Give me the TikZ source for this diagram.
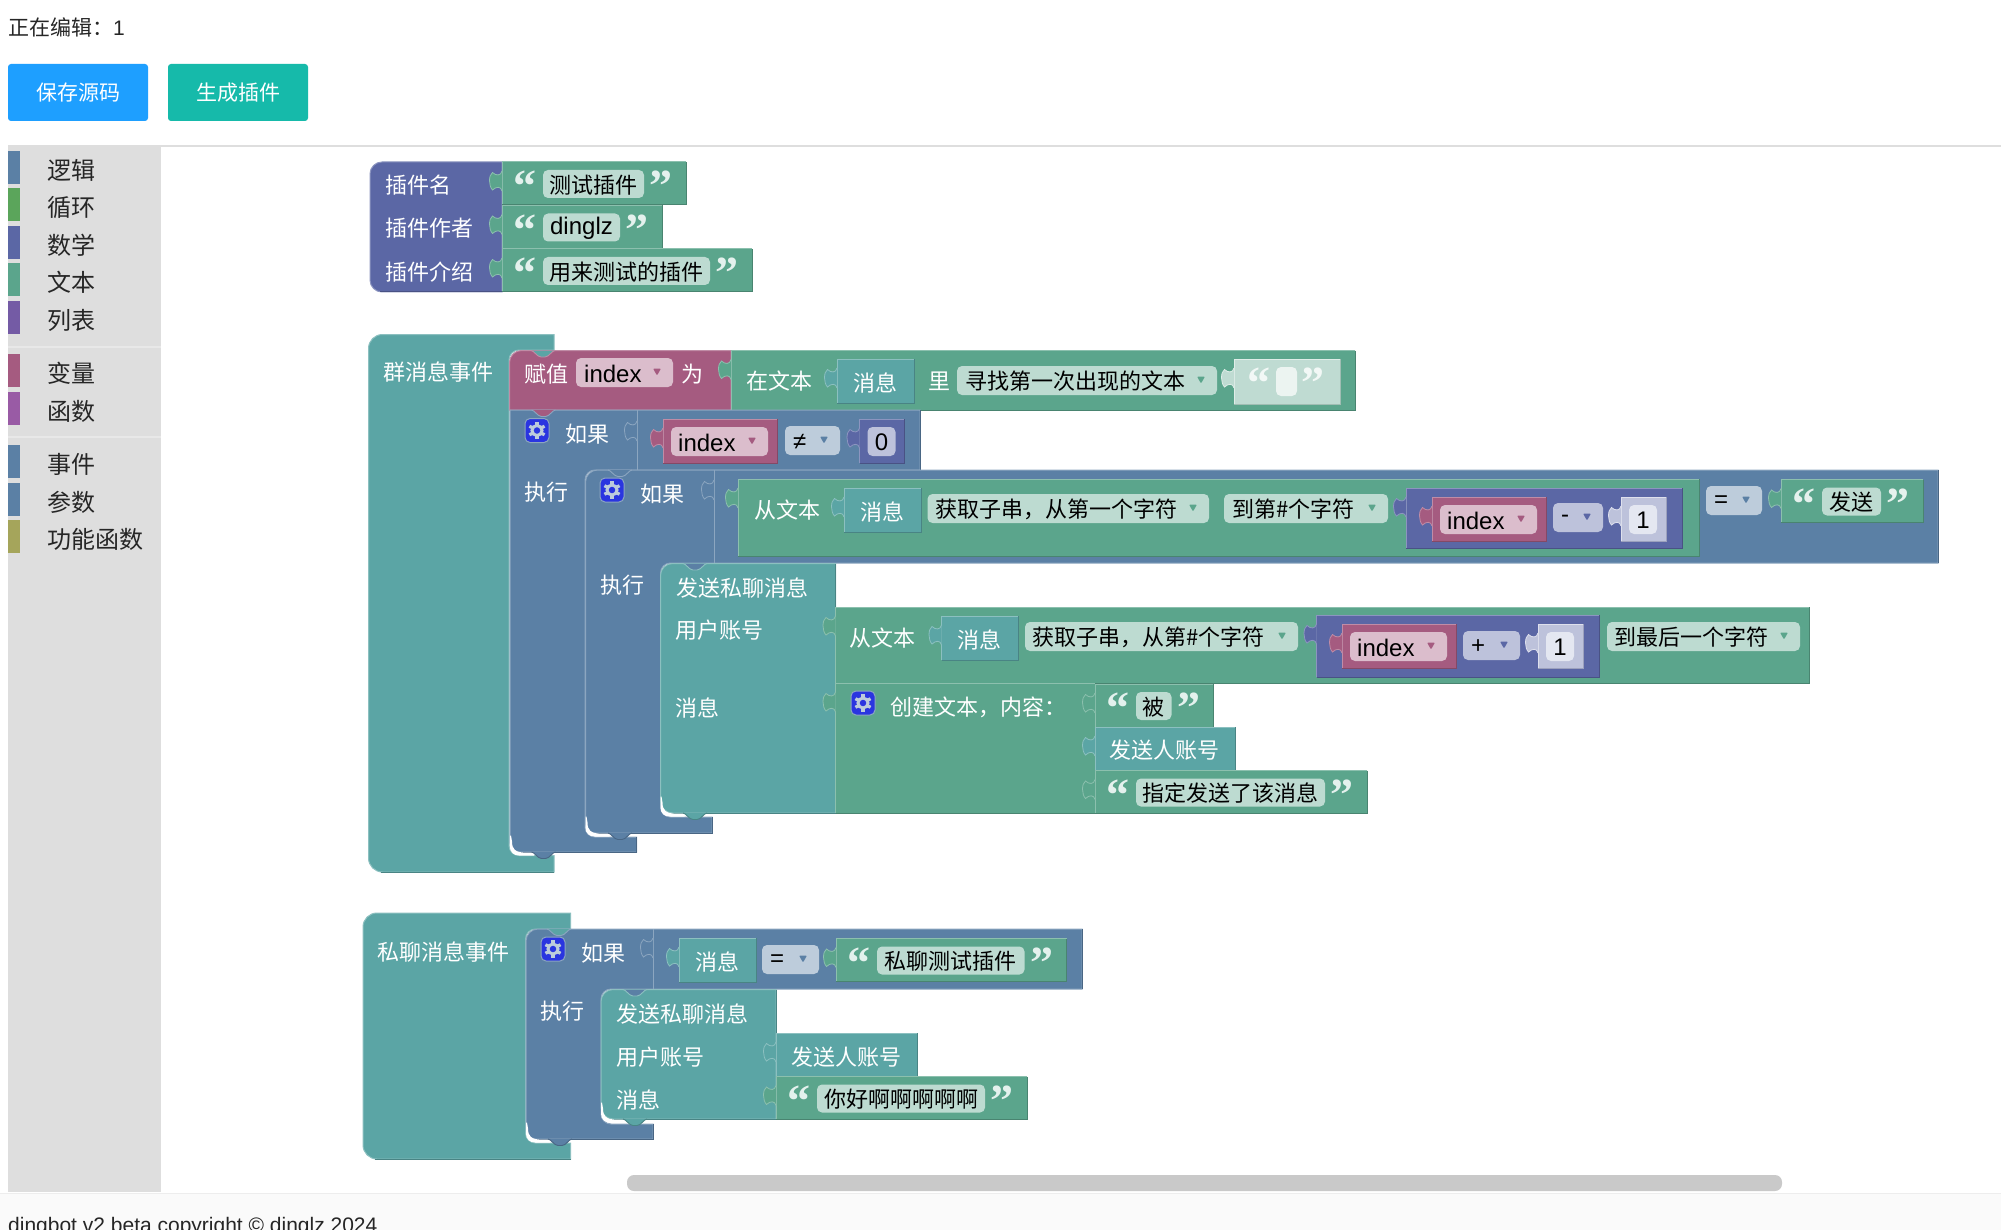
\documentclass[tikz,border=0pt]{standalone}
\usepackage{fontspec}
\setmainfont{Liberation Sans}
\newfontfamily\cjk{Noto Sans CJK SC}
\newfontfamily\qfont{Liberation Serif}[Scale=1.0]

\definecolor{txt}{HTML}{5BA58C}
\definecolor{txthi}{HTML}{8CC0AE}
\definecolor{txtlo}{HTML}{498470}
\definecolor{txtfld}{HTML}{BDDBD1}
\definecolor{evt}{HTML}{5BA5A5}
\definecolor{evthi}{HTML}{8CC0C0}
\definecolor{evtlo}{HTML}{498484}
\definecolor{ctl}{HTML}{5B80A5}
\definecolor{ctlhi}{HTML}{8CA6C0}
\definecolor{ctllo}{HTML}{496684}
\definecolor{ctlfld}{HTML}{BDCCDB}
\definecolor{mth}{HTML}{5B67A5}
\definecolor{mthhi}{HTML}{8C95C0}
\definecolor{mthlo}{HTML}{495284}
\definecolor{mthfld}{HTML}{BDC2DB}
\definecolor{vrb}{HTML}{A55B80}
\definecolor{vrbhi}{HTML}{C08CA6}
\definecolor{vrblo}{HTML}{844966}
\definecolor{vrbfld}{HTML}{DBBDCC}
\definecolor{pale}{HTML}{BDC2DB}
\definecolor{palehi}{HTML}{DEE0ED}
\definecolor{palelo}{HTML}{9CA1BD}
\definecolor{paletxt}{HTML}{BFDBD2}
\definecolor{paletxthi}{HTML}{DFEDE8}
\definecolor{paletxtlo}{HTML}{A0BDB3}
\definecolor{loopcol}{HTML}{5BA55B}
\definecolor{listcol}{HTML}{745BA5}
\definecolor{funccol}{HTML}{995BA5}
\definecolor{utilcol}{HTML}{A5A55B}
\definecolor{gearcol}{HTML}{2A35E0}
\definecolor{savecol}{HTML}{1E9FFF}
\definecolor{buildcol}{HTML}{16BAAA}

\newcommand{\zhfont}{\fontsize{22}{24}\cjk}
\newcommand{\ltn}[1]{{\fontsize{24}{26}\rmfamily #1}}

\tikzset{
  lbl/.style={anchor=west,inner sep=0pt,yshift=-1pt,text=white,font=\zhfont},
  fldtext/.style={anchor=west,inner sep=0pt,yshift=-1pt,text=black,font=\zhfont},
  sidetext/.style={anchor=west,inner sep=0pt,yshift=-1pt,text=black!85,font=\fontsize{24}{26}\cjk},
  btn/.style={inner sep=0pt,text=white,minimum width=140pt,minimum height=57pt,rounded corners=3pt,font=\fontsize{21}{23}\cjk},
  quotemark/.style={inner sep=0pt,font=\fontsize{46}{46}\qfont\bfseries},
  gearbox/.style={inner sep=0pt,minimum width=24pt,minimum height=24pt,rounded corners=5pt,fill=gearcol,draw=ctlhi,line width=1pt},
}

% blocks
\newcommand{\blk}[5]{
  \fill[#1] (#2,#3) rectangle (#4,#5);
  \draw[#1hi,line width=1pt] (#2,#5) -- (#2,#3) -- (#4,#3);
  \draw[#1lo,line width=1pt] (#4,#3) -- (#4,#5) -- (#2,#5);
}
\newcommand{\tabin}[3]{
  \begin{scope}[shift={(#2,#3)}]
    \filldraw[fill=#1,draw=#1hi,line width=.8pt] (0,0) .. controls (-1,5) and (-6,5) .. (-9.5,1.5) .. controls (-13.5,4) and (-13.5,15) .. (-9.5,19) .. controls (-6,15.5) and (-1,15) .. (0,20);
  \end{scope}
}
\newcommand{\vblk}[5]{
  \blk{#1}{#2}{#3}{#4}{#5}
  \tabin{#1}{#2}{#3+9}
}
\newcommand{\notch}[4]{
  \begin{scope}[shift={(#3,#4)}]
    \fill[#1] (0,0) .. controls (3,0) and (6,6.5) .. (10,6.5) -- (14,6.5) .. controls (18,6.5) and (21,0) .. (24,0) -- cycle;
    \draw[#2,line width=.9pt] (0,0) .. controls (3,0) and (6,6.5) .. (10,6.5) -- (14,6.5) .. controls (18,6.5) and (21,0) .. (24,0);
  \end{scope}
}
% rounded on the left side only
\newcommand{\stmtblk}[5]{
  \filldraw[fill=#1,draw=#1hi,line width=1pt] (#4,#3) [rounded corners=12pt] -- (#2,#3) -- (#2,#5) [sharp corners] -- (#4,#5) -- cycle;
  \draw[#1lo,line width=1pt] (#2+10,#5) -- (#4,#5) -- (#4,#3);
}
\newcommand{\hatblk}[7]{
  \filldraw[fill=evt,draw=evthi,line width=1pt] (#3,#2) [rounded corners=14pt] -- (#1,#2) -- (#1,#7) [sharp corners] -- (#3,#7) -- (#3,#6) [rounded corners=10pt] -- (#5,#6) -- (#5,#4) [sharp corners] -- (#3,#4) -- cycle;
  \draw[evtlo,line width=1pt] (#1+12,#7) -- (#3,#7);
}
\newcommand{\ifblk}[9]{
  \filldraw[fill=ctl,draw=ctlhi,line width=1pt] (#4,#3) [rounded corners=#1pt] -- (#2,#3) [rounded corners=10pt] -- (#2,#9) [sharp corners] -- (#8,#9) -- (#8,#7) [rounded corners=10pt] -- (#6,#7) -- (#6,#5) [sharp corners] -- (#4,#5) -- cycle;
  \draw[ctllo,line width=1pt] (#4,#3) -- (#4,#5);
  \draw[ctllo,line width=1pt] (#8,#7) -- (#8,#9) -- (#2+10,#9);
}
\newcommand{\ccorner}[2]{
  \fill[white] (#1,#2-20) -- (#1,#2-9) .. controls (#1,#2-3) and (#1+4,#2) .. (#1+9,#2) -- (#1+24,#2) -- (#1+24,#2-3) -- (#1+13,#2-3) .. controls (#1+6,#2-3) and (#1+2,#2-6) .. (#1+2,#2-14) -- (#1+1,#2-20) -- cycle;
}
\newcommand{\ddfld}[7]{
  \fill[#2fld,rounded corners=5pt] (#3,#4) rectangle (#5,#4+29);
  \fill[#2,rounded corners=1pt] (#5-20,#4+10.5) -- (#5-12,#4+10.5) -- (#5-16,#4+17.5) -- cycle;
  \node (#1) [fldtext] at (#6,#4+14.5) {#7};
}
\newcommand{\strblk}[5]{
  \vblk{txt}{#2}{#3}{#4}{#3+43}
  \fill[txtfld,rounded corners=5pt] (#2+41,#3+8) rectangle (#4-42,#3+36);
  \node (#1) [fldtext,anchor=center] at ({(#2+#4-1)/2},#3+22) {#5};
  \node (#1l) [quotemark,text=white!60!txtfld] at (#2+23,#3+24.5) {“};
  \node (#1r) [quotemark,text=white!60!txtfld] at (#4-25,#3+24.5) {”};
}
\newcommand{\indexblk}[3]{
  \vblk{vrb}{#2}{#3}{#2+114}{#3+44}
  \ddfld{#1}{vrb}{#2+8}{#3+8}{#2+105}{#2+15}{\ltn{index}}
}
\newcommand{\msgblk}[3]{
  \vblk{evt}{#2}{#3}{#2+77}{#3+44}
  \node (#1) [lbl,anchor=center] at (#2+38,#3+23) {消息};
}
\newcommand{\numblk}[6]{
  \vblk{#2}{#4}{#5}{#4+45}{#5+44}
  \fill[#3,rounded corners=5pt] (#4+8,#5+8) rectangle (#4+36,#5+37);
  \node (#1) [fldtext,anchor=center] at (#4+22,#5+22.5) {\ltn{#6}};
}
\newcommand{\gearicon}[3]{
  \node (#1) [gearbox] at (#2,#3) {};
  \draw[ctlfld,line width=3pt] (#1.center) circle (5);
  \foreach \a in {30,90,...,330}
    \draw[ctlfld,line width=3.2pt] (#1.center) ++(\a:5.5) -- ++(\a:3.2);
}

\begin{document}
\begin{tikzpicture}[x=1pt,y=-1pt]
  \useasboundingbox (0,0) rectangle (2001,1230);
  \fill[white] (0,0) rectangle (2001,1230);

  % header
  \node (editing) [anchor=west,inner sep=0pt,text=black!85,font=\fontsize{21}{23}\selectfont] at (8,27) {{\cjk 正在编辑：}1};
  \node (save) [btn,fill=savecol] at (78,92.5) {保存源码};
  \node (build) [btn,fill=buildcol] at (238,92.5) {生成插件};
  \draw[black!13,line width=1.5pt] (161,146) -- (2001,146);

  % toolbox
  \fill[black!13] (8,145) rectangle (161,1192);
  \draw[black!9,line width=1.5pt] (8,347) -- (161,347);
  \draw[black!9,line width=1.5pt] (8,437) -- (161,437);
  \foreach \ty/\col/\name [count=\i] in {151/ctl/逻辑,188/loopcol/循环,226/mth/数学,263/txt/文本,301/listcol/列表,354/vrb/变量,392/funccol/函数,445/ctl/事件,483/ctl/参数,520/utilcol/功能函数} {
    \fill[\col] (8,\ty) rectangle (20,\ty+33);
    \node (side\i) [sidetext] at (47.5,\ty+18) {\name};
  }

  % plugin info
  \stmtblk{mth}{370}{162}{502}{292}
  \node (plgname) [lbl] at (385,184) {插件名};
  \node (plgauthor) [lbl] at (385,227) {插件作者};
  \node (plgintro) [lbl] at (385,271) {插件介绍};
  \strblk{strname}{502}{162}{686}{测试插件}
  \strblk{strauthor}{502}{205.5}{662}{\ltn{dinglz}}
  \strblk{strintro}{502}{249}{752}{用来测试的插件}

  % group message event
  \hatblk{368.5}{334.5}{554}{350}{509}{855.5}{872}
  \node (grpevt) [lbl] at (383,371) {群消息事件};
  \filldraw[fill=vrb,draw=vrbhi,line width=1pt] (731,350.5) [rounded corners=12pt] -- (509.5,350.5) [sharp corners] -- (509.5,410) -- (731,410) -- cycle;
  \notch{evt}{vrbhi}{531}{350.5}
  \node (assign) [lbl] at (524.5,373) {赋值};
  \ddfld{assignvar}{vrb}{576}{358}{673}{584}{\ltn{index}}
  \node (assignto) [lbl] at (681.5,373) {为};
  \vblk{txt}{731}{350.5}{1355}{410}
  \node (intext) [lbl] at (746.5,380) {在文本};
  \msgblk{msgfind}{837}{359}
  \node (intexttail) [lbl] at (928,380) {里};
  \ddfld{findmode}{txt}{957}{366}{1217}{965}{寻找第一次出现的文本}
  \vblk{paletxt}{1234}{359}{1340}{404}
  \fill[white!70!paletxt,rounded corners=5pt] (1276,367) rectangle (1297,396);
  \node (emptyl) [quotemark,text=white!80!paletxt] at (1259,383.5) {“};
  \node (emptyr) [quotemark,text=white!80!paletxt] at (1313,383.5) {”};

  % outer if
  \ifblk{0.1}{510}{410}{920}{470}{585}{837}{636.5}{852}
  \draw[ctlhi,line width=1pt] (637.5,410) -- (637.5,470);
  \notch{vrb}{ctlhi}{531.5}{410}
  \gearicon{gearone}{537}{430.5}
  \node (ifone) [lbl] at (565,433) {如果};
  \tabin{ctl}{637}{421}
  \indexblk{condvar}{663}{419}
  \ddfld{condop}{ctl}{785}{426}{840}{793}{\ltn{≠}}
  \numblk{condzero}{mth}{mthfld}{859.5}{419}{0}
  \node (doone) [lbl] at (524.5,491) {执行};
  \ccorner{510}{855.5}
  \notch{ctl}{ctllo}{531.5}{852}

  % inner if
  \ifblk{12}{585.5}{470}{1938}{563}{660.5}{817}{712}{833}
  \draw[ctlhi,line width=1pt] (714,470) -- (714,563);
  \notch{ctl}{ctlhi}{608}{470}
  \gearicon{geartwo}{612}{490}
  \node (iftwo) [lbl] at (640.5,493) {如果};
  \tabin{ctl}{714}{480}
  \vblk{txt}{738}{479}{1699}{556}
  \node (fromtext) [lbl] at (754,509) {从文本};
  \msgblk{msgsub}{844}{488}
  \ddfld{subfrom}{txt}{927.5}{494}{1209}{935}{获取子串，从第一个字符}
  \ddfld{subto}{txt}{1224}{494}{1388}{1232}{到第\#个字符}
  \vblk{mth}{1406}{488}{1682.5}{548}
  \indexblk{subvar}{1432}{497}
  \ddfld{subop}{mth}{1553}{503}{1603}{1561}{\ltn{-}}
  \numblk{subone}{pale}{white!60!pale}{1621}{497}{1}
  \ddfld{sendop}{ctl}{1706}{486}{1762}{1714}{\ltn{=}}
  \strblk{strsend}{1781}{479.5}{1923}{发送}
  \node (dotwo) [lbl] at (600,584) {执行};
  \ccorner{585.5}{836.5}
  \notch{ctl}{ctllo}{608}{833}

  % send private message
  \stmtblk{evt}{660.5}{563.5}{835.5}{813}
  \notch{ctl}{evthi}{683}{563.5}
  \node (sendpriv) [lbl] at (676,587) {发送私聊消息};
  \node (account) [lbl] at (675,629) {用户账号};
  \node (sendmsg) [lbl] at (675,707) {消息};
  \vblk{txt}{835.5}{607}{1809}{683}
  \node (fromtexttwo) [lbl] at (849,637) {从文本};
  \msgblk{msgacc}{941.5}{616}
  \ddfld{accfrom}{txt}{1025}{622}{1298}{1032}{获取子串，从第\#个字符}
  \vblk{mth}{1316.5}{615}{1599}{677}
  \indexblk{accvar}{1342}{624}
  \ddfld{accop}{mth}{1463}{631}{1520}{1471}{\ltn{+}}
  \numblk{accone}{pale}{white!60!pale}{1538}{624}{1}
  \ddfld{accto}{txt}{1607}{622}{1800}{1614}{到最后一个字符}
  \vblk{txt}{835.5}{683}{1095}{813}
  \gearicon{gearthree}{863}{703}
  \node (create) [lbl] at (890.5,706) {创建文本，内容：};
  \strblk{strbei}{1095}{684}{1213.5}{被}
  \vblk{evt}{1095}{727}{1235}{770}
  \node (senderone) [lbl] at (1109,749) {发送人账号};
  \strblk{strnotice}{1095}{770.5}{1367}{指定发送了该消息}
  \ccorner{660.5}{816.5}
  \notch{evt}{evtlo}{683}{813}

  % private message event
  \hatblk{363}{913}{570.5}{929}{525.5}{1143}{1159}
  \node (prvevt) [lbl] at (377.5,951) {私聊消息事件};
  \ifblk{12}{526}{929}{1082}{989}{601}{1124}{653}{1139}
  \draw[ctlhi,line width=1pt] (653,929) -- (653,989);
  \notch{evt}{ctlhi}{547}{929}
  \gearicon{gearfour}{553}{949}
  \node (ifthree) [lbl] at (581,952) {如果};
  \tabin{ctl}{653}{938}
  \msgblk{msgcond}{679}{938}
  \ddfld{prvop}{ctl}{762}{945}{819}{770}{\ltn{=}}
  \strblk{strprv}{836}{938.5}{1066.5}{私聊测试插件}
  \node (dothree) [lbl] at (540.5,1010) {执行};
  \ccorner{526}{1142.5}
  \notch{ctl}{ctllo}{548}{1139}
  \stmtblk{evt}{601}{989.5}{776}{1119}
  \notch{ctl}{evthi}{623}{989.5}
  \node (sendprivtwo) [lbl] at (616.5,1013) {发送私聊消息};
  \node (accounttwo) [lbl] at (616.5,1056) {用户账号};
  \node (sendmsgtwo) [lbl] at (616.5,1099) {消息};
  \vblk{evt}{776}{1033}{917}{1076}
  \node (sendertwo) [lbl] at (791,1056) {发送人账号};
  \strblk{strhello}{776}{1076.5}{1027}{你好啊啊啊啊啊}
  \ccorner{601}{1122.5}
  \notch{evt}{evtlo}{623}{1119}

  % scrollbar and footer
  \fill[black!21,rounded corners=7pt] (627,1175) rectangle (1782,1191);
  \fill[black!2] (0,1193) rectangle (2001,1230);
  \draw[black!7,line width=1pt] (0,1193) -- (2001,1193);
  \node (copyright) [anchor=base west,inner sep=0pt,text=black!85,font=\fontsize{21}{23}\selectfont] at (8,1232) {dingbot v2 beta copyright © dinglz 2024};
\end{tikzpicture}
\end{document}
